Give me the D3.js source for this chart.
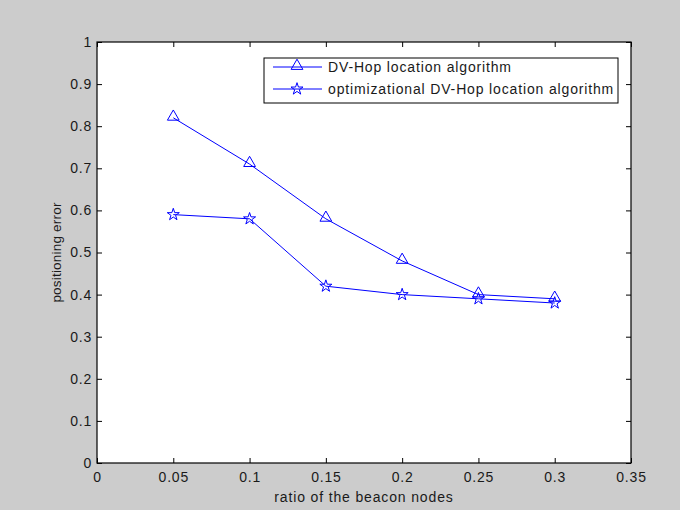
<!DOCTYPE html>
<html>
<head>
<meta charset="UTF-8">
<script src="https://d3js.org/d3.v7.min.js"></script>
<style>
  body { margin: 0; background: #cccccc; font-family: Arial, "Liberation Sans", sans-serif; }
  .tick text { font-size: 14px; fill: #1a1a1a; letter-spacing: 0.8px; font-family: Arial, "Liberation Sans", sans-serif; }
  .lbl { font-size: 14px; fill: #1a1a1a; letter-spacing: 0.85px; }
</style>
</head>
<body>
<svg id="chart" width="680" height="510"></svg>
<script>
  const ratios = [0.05, 0.1, 0.15, 0.2, 0.25, 0.3];
  const dvHop = [0.82, 0.71, 0.58, 0.48, 0.40, 0.39];
  const optDvHop = [0.59, 0.58, 0.42, 0.40, 0.39, 0.38];
  const xTicks = [0, 0.05, 0.1, 0.15, 0.2, 0.25, 0.3, 0.35];
  const yTicks = [0, 0.1, 0.2, 0.3, 0.4, 0.5, 0.6, 0.7, 0.8, 0.9, 1];
  const seriesNames = ["DV-Hop location algorithm", "optimizational DV-Hop location algorithm"];

  const pLeft = 97, pTop = 42, pRight = 631, pBottom = 463;
  const svg = d3.select("#chart");
  const blue = "#0000ff";

  const x = d3.scaleLinear().domain([0, 0.35]).range([pLeft, pRight]);
  const y = d3.scaleLinear().domain([0, 1]).range([pBottom, pTop]);

  svg.append("rect").attr("x", pLeft).attr("y", pTop)
    .attr("width", pRight - pLeft).attr("height", pBottom - pTop).attr("fill", "#fff");

  const fmt = d => d3.format("")(+d.toFixed(2));

  // axes with inward ticks
  svg.append("g").attr("transform", `translate(0,${pBottom})`)
    .call(d3.axisBottom(x).tickValues(xTicks).tickFormat(fmt).tickSizeInner(-5).tickSizeOuter(0).tickPadding(9))
    .call(g => g.select(".domain").remove());
  svg.append("g").attr("transform", `translate(${pLeft},0)`)
    .call(d3.axisLeft(y).tickValues(yTicks).tickFormat(fmt).tickSizeInner(-5).tickSizeOuter(0).tickPadding(5))
    .call(g => g.select(".domain").remove());
  svg.append("g").attr("transform", `translate(0,${pTop})`)
    .call(d3.axisTop(x).tickValues(xTicks).tickFormat("").tickSizeInner(-5).tickSizeOuter(0))
    .call(g => g.select(".domain").remove());
  svg.append("g").attr("transform", `translate(${pRight},0)`)
    .call(d3.axisRight(y).tickValues(yTicks).tickFormat("").tickSizeInner(-5).tickSizeOuter(0))
    .call(g => g.select(".domain").remove());
  svg.selectAll(".tick line").attr("stroke", "#000");

  svg.append("rect").attr("x", pLeft).attr("y", pTop)
    .attr("width", pRight - pLeft).attr("height", pBottom - pTop)
    .attr("fill", "none").attr("stroke", "#000").attr("stroke-width", 1.2);

  const line = d3.line().x((d, i) => x(ratios[i])).y(d => y(d));
  const tri = d3.symbol().type(d3.symbolTriangle).size(60);
  const star = d3.symbol().type(d3.symbolStar).size(45);

  [[dvHop, tri], [optDvHop, star]].forEach(([vals, sym]) => {
    svg.append("path").datum(vals).attr("d", line)
      .attr("fill", "none").attr("stroke", blue).attr("stroke-width", 1);
    svg.selectAll(null).data(vals).enter().append("path")
      .attr("d", sym)
      .attr("transform", (d, i) => `translate(${x(ratios[i])},${y(d) + (sym === tri ? -1 : 0)})`)
      .attr("fill", "none").attr("stroke", blue).attr("stroke-width", 1);
  });

  // legend
  const lg = svg.append("g");
  lg.append("rect").attr("x", 264).attr("y", 58).attr("width", 354).attr("height", 45)
    .attr("fill", "#fff").attr("stroke", "#000").attr("stroke-width", 1);
  [tri, star].forEach((sym, i) => {
    const ly = 67 + i * 22;
    lg.append("line").attr("x1", 273).attr("x2", 322).attr("y1", ly).attr("y2", ly)
      .attr("stroke", blue).attr("stroke-width", 1);
    lg.append("path").attr("d", sym).attr("transform", `translate(297,${ly - (i === 0 ? 1 : 0)})`)
      .attr("fill", "none").attr("stroke", blue);
    lg.append("text").attr("class", "lbl").attr("x", 328).attr("y", ly).attr("dy", "0.35em")
      .text(seriesNames[i]);
  });

  svg.append("text").attr("class", "lbl").attr("x", (pLeft + pRight) / 2).attr("y", 502)
    .attr("text-anchor", "middle").text("ratio of the beacon nodes");
  svg.append("text").attr("class", "lbl").style("font-size", "13.5px").style("letter-spacing", "0.2px")
    .attr("transform", `translate(61,${(pTop + pBottom) / 2}) rotate(-90)`)
    .attr("text-anchor", "middle").text("positioning error");
</script>
</body>
</html>
